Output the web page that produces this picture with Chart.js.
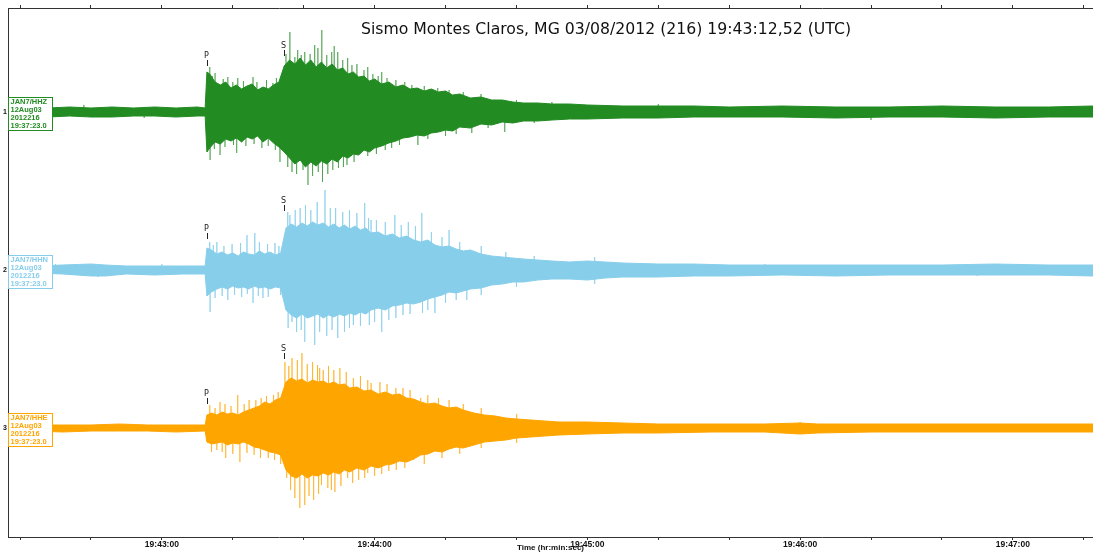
<!DOCTYPE html>
<html>
<head>
<meta charset="utf-8">
<script src="https://cdn.jsdelivr.net/npm/chart.js@4/dist/chart.umd.min.js"></script>
<style>
  html, body { margin: 0; padding: 0; background: #fff; }
  #wrap { width: 1093px; height: 553px; }
</style>
</head>
<body>
<div id="wrap"><canvas id="seis"></canvas></div>
<script>
// ---- station / trace info ----
var TRACE_NAMES = ['JAN7/HHZ', 'JAN7/HHN', 'JAN7/HHE'];
var TRACE_DATE = '12Aug03';
var TRACE_JDAY = '2012216';
var TRACE_START = '19:37:23.0';
var TRACE_COLORS = ['#228b22', '#87ceeb', '#ffa500'];
var TRACE_SPIKE_COLORS = ['rgba(34,139,34,0.55)', 'rgba(135,206,235,0.75)', 'rgba(255,165,0,0.6)'];

// time axis, seconds after 19:42:00
var T_MIN = 16.6, T_MAX = 322.6;
var TICK_SECONDS = [60, 120, 180, 240, 300];
var TICK_LABELS = ['19:43:00', '19:44:00', '19:45:00', '19:46:00', '19:47:00'];
var MINOR_STEP = 20;

// phase picks (s after 19:42:00)
var P_TIME = 72.7;
var S_TIME = 94.5;

// ---- envelopes (relative amplitude) ----
// HHZ
var z_t  = [16.6,22,28,34,40,46,52,58,64,70,72.2,72.7,73.5,75,76.5,78,79.5,81,82.5,84,85.5,87,88.5,90,91.5,93,94.5,96,97.5,99,100.5,102,103.5,105,106.5,108,109.5,111,112.5,114,115.5,117,118.5,120,122,124,126,128,130,132,134,136,138,140,142,144,147,150,153,156,159,162,166,170,175,180,190,200,210,220,235,250,265,280,295,310,322.6];
var z_up = [4,5,4,5,4,5,4,5,4,5,4,40,38,30,27,30,24,27,23,26,28,22,25,23,27,30,46,52,48,54,47,52,45,50,44,48,42,44,38,40,35,36,31,33,28,30,25,27,23,24,21,23,20,21,17,18,14,15,12,12,10,9,9,8,8,7,6,6,6,5,6,5,5,6,5,5,6];
var z_dn = [4,4,5,4,5,5,4,4,5,4,4,40,36,30,32,27,29,26,30,25,27,24,30,26,31,35,40,46,52,48,55,50,54,49,52,47,50,44,46,42,43,38,40,36,34,31,29,26,25,23,24,21,20,18,19,15,16,12,13,10,11,9,9,8,7,7,6,6,5,5,5,6,5,5,6,5,5];
var z_spT = [25,38,55,73.5,73.6,74.2,74.8,75,76.4,77.3,77.8,78.6,80,80.2,81.1,81.4,83,83.7,85.7,86,86.8,88.2,89.5,90,91.3,92,92.3,93.3,95,95.5,96.1,96.7,97.5,98,98.3,99.3,99.8,100.3,101.2,101.8,102.5,103.1,104,104.1,105.1,105.3,106.5,106.8,107.9,108.2,108.6,109.6,109.8,111,111.2,112.2,112.4,113.6,114.2,115,116.4,117,118,118.1,119.5,120.5,121,122,123,123.5,124.8,126,127,128.5,130.5,132.2,134,135,137.8,140,141,143,145,147.4,150,152,156.7,160,165,170,200,260];
var z_spA = [-7,7,-6,45,-48,36,-37,39,-43,33,-35,35,30,-33,-41,34,31,-34,35,-32,30,-36,32,-34,29,-38,34,-50,58,-55,80,-60,55,-62,62,57,-58,60,-73,58,-64,67,64,-60,82,-70,57,-62,60,-58,66,60,-56,52,-55,-53,54,47,-50,48,-40,42,-44,45,38,-42,36,40,-38,34,-36,32,-33,30,27,-33,26,-27,24,-24,22,-22,20,-21,18,-16,-20,12,-11,10,8,-8];

// HHN
var n_t  = [16.6,24,32,40,44,50,58,66,72.2,72.7,74,75.5,77,78.5,80,81.5,83,84.5,86,87.5,89,90.5,92,93.5,95,96.5,98,99.5,101,102.5,104,105.5,107,108.5,110,111.5,113,114.5,116,117.5,119,121,123,125,127,129,131,133,135,137,139,141,143,145,147,150,153,156,159,162,166,170,175,180,185,190,200,210,220,235,250,265,280,295,310,322.6];
var n_up = [4,4,5,6,5,4,4,4,4,22,20,16,18,15,17,14,18,16,15,19,16,18,15,17,42,46,43,47,44,48,45,47,43,46,42,45,41,44,40,42,37,38,34,36,32,34,30,28,30,25,23,24,21,19,20,16,14,13,12,11,10,9,8,9,8,7,6,6,5,5,5,5,5,6,5,5];
var n_dn = [4,3,4,6,6,4,5,4,4,26,22,19,17,19,16,18,17,19,16,18,17,19,17,18,40,45,48,44,48,46,44,48,45,47,44,46,43,45,42,44,40,38,40,36,35,33,34,32,29,27,25,22,23,21,19,18,15,14,12,12,10,9,9,10,8,7,7,6,6,5,6,5,5,5,5,6];
var n_spT = [30,42,60,73.5,73.6,74.5,75,75.5,77,77.5,78.6,79.8,80.5,82.2,82.5,84,84.1,85.7,86.2,87.2,87.5,88.5,89.8,90,91.9,93,93.5,95.5,95.6,96.1,96.7,97.6,98,99,99.3,100.3,100.5,102,103.1,103.8,104.5,106,106.5,107.5,108,109,109.6,111,111.5,112.8,113,114,115,116,117.2,118.3,118.5,119,120,120.5,122,123,124,125.7,126,127.5,128,129.5,130,131.5,133.3,133.5,135,136,137,139,140,141,143,144,146,150,150.1,157,160,165,182,182.1,230,290];
var n_spA = [6,-7,6,28,-42,25,-28,28,-26,24,-30,26,-25,27,-27,35,-24,-33,37,-26,28,-28,26,-27,27,24,-25,58,-58,55,-52,60,-62,62,-60,-72,65,60,-75,68,-62,80,-66,62,-60,62,-68,58,-62,60,-58,-55,57,-56,67,52,-55,50,-52,50,-62,48,-50,55,-48,45,-45,48,-44,44,57,-43,-40,38,-43,33,-33,40,-30,28,-30,24,-25,18,-17,14,13,-14,6,-6];

// HHE
var e_t  = [16.6,24,32,40,48,56,64,72.2,72.7,74,75.5,77,78.5,80,81.5,83,84.5,86,87.5,89,90.5,92,93.5,95,96.5,98,99.5,101,102.5,104,105.5,107,108.5,110,111.5,113,115,117,119,121,123,125,127,129,131,133,135,137,139,141,143,145,148,151,154,157,160,164,168,172,180,190,200,215,230,240,245,260,275,290,305,322.6];
var e_up = [3,3,3,3,4,3,3,3,13,15,13,16,14,15,13,16,18,20,22,26,24,28,30,46,50,47,49,45,48,46,47,44,46,43,44,40,41,37,38,34,36,33,34,30,29,26,24,25,22,20,21,18,15,13,12,10,9,8,7,6,6,5,4,4,4,5,4,4,4,4,4,4];
var e_dn = [3,3,4,3,3,3,4,3,14,16,15,14,17,15,16,14,16,19,20,22,24,25,27,42,48,50,46,50,47,48,45,47,44,46,42,44,40,42,38,40,37,36,33,34,31,27,26,23,24,21,19,20,17,14,13,12,10,9,8,7,6,5,5,4,4,6,5,4,4,4,4,4];
var e_spT = [73.5,74,75,75.5,76.4,77,77.8,78,79.5,80,81.4,82,83.2,84,84.6,86,86.5,87.8,88,89.5,90,91.5,91.8,92.8,93.5,94.7,95.2,95.8,96.3,96.7,97.5,98.2,98.9,99.5,100.3,101,101.5,102.5,102.8,103.9,104.2,104.5,105,105.5,106.8,107,107.8,108.5,108.8,110.2,110.5,112,112.4,113.8,114,115.5,116,117.2,118,118.1,119,120,121.5,122,123.5,124,126,126.1,128,128.5,130,131,133,134,135,138,139,141,144,145,150,150.1,160,160.1,240];
var e_spA = [23,-24,20,-22,26,-24,24,-30,22,-26,33,-34,24,-25,28,-27,28,-30,30,32,-30,33,-32,36,-36,66,-50,62,-62,70,-70,68,-80,75,-77,64,-68,66,-72,63,-66,60,-57,58,-60,62,-62,58,-64,60,-58,56,-50,-55,50,-52,52,-50,-45,48,45,-48,46,-46,44,-43,40,-42,40,-40,38,-32,30,-36,33,30,-30,28,-26,24,20,-20,14,-15,6];

var TRACES = [
  { t: z_t, up: z_up, dn: z_dn, spT: z_spT, spA: z_spA },
  { t: n_t, up: n_up, dn: n_dn, spT: n_spT, spA: n_spA },
  { t: e_t, up: e_up, dn: e_dn, spT: e_spT, spA: e_spA }
];

var SPACING = 158;   // one trace slot on the y axis

function baseOf(i) { return SPACING * (i + 1); }

var datasets = [];
TRACES.forEach(function(tr, i) {
  var base = baseOf(i);
  var upper = tr.t.map(function(v, k) { return { x: v, y: base - tr.up[k] }; });
  var lower = tr.t.map(function(v, k) { return { x: v, y: base + tr.dn[k] }; });
  // spikes: vertical strokes from the baseline out to each peak
  var order = tr.spT.map(function(v, k) { return k; }).sort(function(a, b) { return tr.spT[a] - tr.spT[b]; });
  var spikes = [];
  order.forEach(function(k) {
    spikes.push({ x: tr.spT[k], y: base });
    spikes.push({ x: tr.spT[k], y: base - tr.spA[k] });
    spikes.push({ x: tr.spT[k], y: base });
  });
  datasets.push({
    data: upper, borderColor: TRACE_COLORS[i], backgroundColor: TRACE_COLORS[i],
    borderWidth: 1, fill: '+1', pointRadius: 0, tension: 0
  });
  datasets.push({
    data: lower, borderColor: TRACE_COLORS[i], backgroundColor: TRACE_COLORS[i],
    borderWidth: 1, fill: false, pointRadius: 0, tension: 0
  });
  datasets.push({
    data: spikes, borderColor: TRACE_SPIKE_COLORS[i], borderWidth: 1,
    fill: false, pointRadius: 0, tension: 0
  });
});

// title, station boxes and P/S picks
var decor = {
  id: 'decor',
  afterDatasetsDraw: function(chart) {
    var ctx = chart.ctx, xs = chart.scales.x, ys = chart.scales.y, area = chart.chartArea;
    ctx.save();
    // phase picks
    var pLift = [46, 31, 24], sLift = [56, 59, 69];
    ctx.font = '8px "DejaVu Sans"';
    ctx.fillStyle = '#222';
    ctx.strokeStyle = '#222';
    ctx.lineWidth = 1;
    ctx.textAlign = 'center';
    ctx.textBaseline = 'bottom';
    for (var i = 0; i < 3; i++) {
      [[P_TIME, pLift[i], 'P'], [S_TIME, sLift[i], 'S']].forEach(function(ph) {
        var px = Math.round(xs.getPixelForValue(ph[0])) + 0.5;
        var py = ys.getPixelForValue(baseOf(i) - ph[1]);
        ctx.beginPath();
        ctx.moveTo(px, py);
        ctx.lineTo(px, py - 6);
        ctx.stroke();
        ctx.fillText(ph[2], px - 1, py - 6);
      });
    }
    // station boxes
    ctx.textAlign = 'left';
    ctx.textBaseline = 'middle';
    ctx.font = 'bold 7.5px "Liberation Sans"';
    for (var j = 0; j < 3; j++) {
      var cy = ys.getPixelForValue(baseOf(j)) + 1.5;
      var bx = area.left + 0.5, by = Math.round(cy - 16.5) + 0.5;
      ctx.fillStyle = '#fff';
      ctx.fillRect(bx, by, 44, 33);
      ctx.strokeStyle = TRACE_COLORS[j];
      ctx.strokeRect(bx, by, 44, 33);
      ctx.fillStyle = TRACE_COLORS[j];
      var lines = [TRACE_NAMES[j], TRACE_DATE, TRACE_JDAY, TRACE_START];
      lines.forEach(function(s, k) { ctx.fillText(s, bx + 2, by + 4.5 + k * 8); });
    }
    // title
    ctx.fillStyle = '#111';
    ctx.font = '15.7px "DejaVu Sans"';
    ctx.textAlign = 'center';
    ctx.fillText('Sismo Montes Claros, MG 03/08/2012 (216) 19:43:12,52 (UTC)', 606, 30);
    ctx.restore();
  }
};

function minorTicks(scale) {
  var ticks = [];
  for (var v = Math.ceil(T_MIN / MINOR_STEP) * MINOR_STEP; v <= T_MAX; v += MINOR_STEP) ticks.push({ value: v });
  scale.ticks = ticks;
}

new Chart(document.getElementById('seis'), {
  type: 'line',
  data: { datasets: datasets },
  plugins: [decor],
  options: {
    responsive: true,
    maintainAspectRatio: false,
    animation: false,
    layout: { padding: 0 },
    plugins: { legend: { display: false }, tooltip: { enabled: false }, title: { display: false } },
    scales: {
      x: {
        type: 'linear', position: 'bottom', min: T_MIN, max: T_MAX,
        afterBuildTicks: minorTicks,
        afterFit: function(s) { s.height = 16; },
        grid: { drawOnChartArea: false, tickLength: 3, color: '#333' },
        border: { display: true, color: '#333', width: 1 },
        ticks: {
          padding: 0, color: '#111', maxRotation: 0, autoSkip: false,
          font: { family: 'Liberation Sans', size: 8.5, weight: 'bold' },
          callback: function(v) { var k = TICK_SECONDS.indexOf(v); return k >= 0 ? TICK_LABELS[k] : ''; }
        },
        title: {
          display: true, text: 'Time (hr:min:sec)', color: '#111', padding: 0,
          font: { family: 'Liberation Sans', size: 8, weight: 'bold' }
        }
      },
      xTop: {
        type: 'linear', position: 'top', min: T_MIN, max: T_MAX,
        afterBuildTicks: minorTicks,
        afterFit: function(s) { s.height = 8; },
        grid: { drawOnChartArea: false, tickLength: 3, color: '#333' },
        border: { display: true, color: '#333', width: 1 },
        ticks: { display: false }
      },
      y: {
        type: 'linear', reverse: true, min: 54, max: 583,
        afterBuildTicks: function(s) { s.ticks = [{ value: baseOf(0) }, { value: baseOf(1) }, { value: baseOf(2) }]; },
        afterFit: function(s) { s.width = 8; },
        grid: { display: false, drawTicks: false },
        border: { display: true, color: '#333', width: 1 },
        ticks: {
          padding: 1, color: '#111',
          font: { family: 'Liberation Sans', size: 7, weight: 'bold' },
          callback: function(v) { return String(Math.round(v / SPACING)); }
        }
      }
    }
  }
});
</script>
</body>
</html>
